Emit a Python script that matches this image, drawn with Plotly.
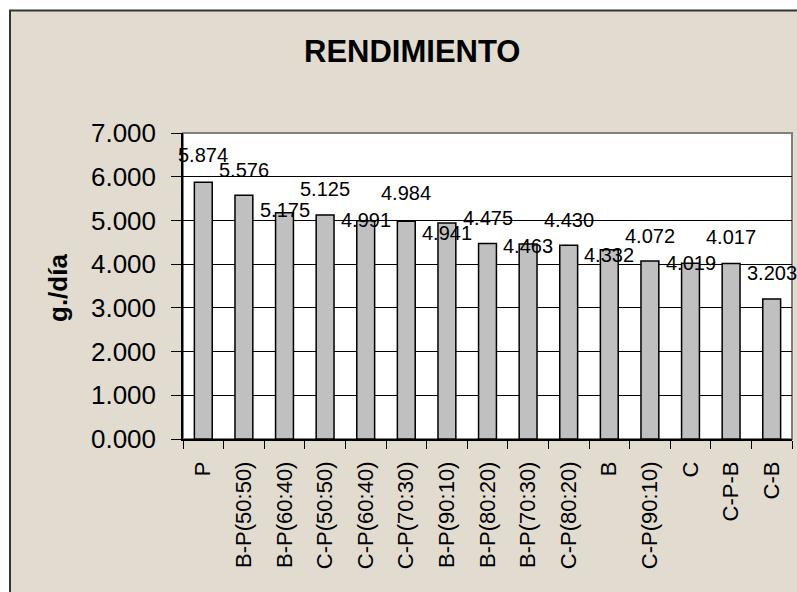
import plotly.graph_objects as go

categories = ["P", "B-P(50:50)", "B-P(60:40)", "C-P(50:50)", "C-P(60:40)", "C-P(70:30)",
              "B-P(90:10)", "B-P(80:20)", "B-P(70:30)", "C-P(80:20)", "B", "C-P(90:10)",
              "C", "C-P-B", "C-B"]
values = [5.874, 5.576, 5.175, 5.125, 4.991, 4.984, 4.941, 4.475, 4.463, 4.430,
          4.332, 4.072, 4.019, 4.017, 3.203]
y_ticks = [0, 1, 2, 3, 4, 5, 6, 7]

# label pixel offsets (style)
label_shift = [27, 25, 3, 26, 1, 28, -10, 25, -2, 25, -5, 25, 0, 26, 26]

W, H = 797, 592
ML, MR, MT, MB = 183, 5, 133, 153
PW, PH = W - ML - MR, H - MT - MB

def px_x(p):
    return (p - ML) / PW

def px_y(p):
    return (H - MB - p) / PH

FONT = "Liberation Sans, Arial, sans-serif"
BG = "#e2dcd0"

fig = go.Figure()
fig.add_trace(go.Bar(
    x=categories, y=values,
    marker=dict(color="#c0c0c0", line=dict(color="black", width=1.5)),
    hoverinfo="skip",
))

for c, v, s in zip(categories, values, label_shift):
    fig.add_annotation(x=c, y=v, text=f"{v:.3f}", showarrow=False,
                       yshift=s, yanchor="middle", xanchor="center",
                       font=dict(family=FONT, size=20, color="black"))

fig.add_annotation(xref="paper", yref="paper", x=px_x(58), y=px_y(288),
                   text="<b>g./día</b>", textangle=-90, showarrow=False,
                   xanchor="center", yanchor="middle",
                   font=dict(family=FONT, size=26, color="black"))

fig.add_annotation(xref="paper", yref="paper", x=px_x(412), y=px_y(51),
                   text="<b>RENDIMIENTO</b>", showarrow=False,
                   xanchor="center", yanchor="middle",
                   font=dict(family=FONT, size=31, color="black"))

fig.add_shape(type="rect", xref="paper", yref="paper", layer="below",
              x0=px_x(10), x1=px_x(W + 20), y0=px_y(H + 20), y1=px_y(10.5),
              fillcolor=BG, line=dict(color="#333333", width=2))
fig.add_shape(type="rect", xref="paper", yref="paper", layer="below",
              x0=0, x1=1, y0=0, y1=1,
              fillcolor="white", line=dict(color="#808080", width=2))

fig.update_layout(
    width=W, height=H,
    margin=dict(l=ML, r=MR, t=MT, b=MB, pad=0),
    paper_bgcolor="white", plot_bgcolor="white",
    bargap=0.56, showlegend=False,
    font=dict(family=FONT, color="black"),
    xaxis=dict(type="category", tickson="boundaries", ticks="outside", ticklen=8,
               tickcolor="black", tickwidth=1, showline=True, linecolor="black",
               linewidth=1.5, showgrid=False, tickangle=-90,
               tickfont=dict(family=FONT, size=22, color="black"),
               ticklabelstandoff=12, range=[-0.5, len(categories) - 0.5]),
    yaxis=dict(range=[0, 7], tickvals=y_ticks, tickformat=".3f",
               ticks="outside", ticklen=10, tickcolor="black", tickwidth=1,
               showline=True, linecolor="black", linewidth=1.5,
               showgrid=True, gridcolor="black", gridwidth=1,
               zeroline=False,
               tickfont=dict(family=FONT, size=26, color="black"),
               ticklabelstandoff=10),
)

fig.write_html("out.html", config={"displayModeBar": False},
               post_script="document.body.style.margin='0';document.body.style.overflow='hidden';")
